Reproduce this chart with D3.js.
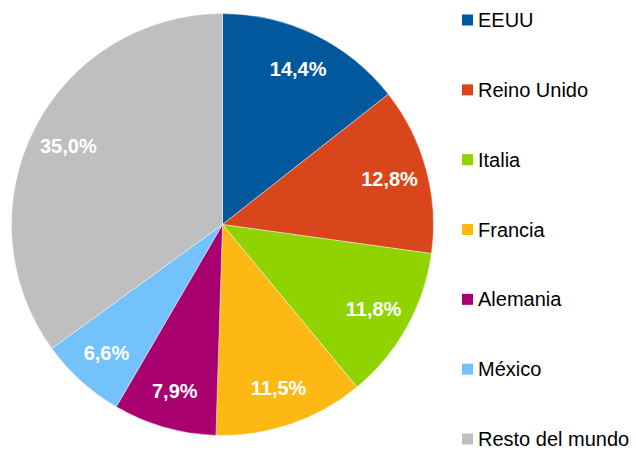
<!DOCTYPE html>
<html>
<head>
<meta charset="utf-8">
<style>
    body { margin: 0; background: #fff; }
    svg { display: block; }
    .slice-label {
        fill: #fff;
        font-family: "Liberation Sans", Arial, sans-serif;
        font-weight: bold;
        font-size: 20px;
        text-anchor: middle;
        dominant-baseline: central;
    }
    .legend text {
        fill: #000;
        font-family: "Liberation Sans", Arial, sans-serif;
        font-size: 20px;
        dominant-baseline: central;
    }
</style>
</head>
<body>
<svg class="chart" width="636" height="450"></svg>
<script src="https://d3js.org/d3.v7.min.js"></script>
<script>
    var countries = ["EEUU", "Reino Unido", "Italia", "Francia", "Alemania", "México", "Resto del mundo"];
    var shares = [14.4, 12.8, 11.8, 11.5, 7.9, 6.6, 35.0];
    var colors = ["#02589c", "#d9461b", "#8fd400", "#fdb813", "#a8006f", "#74c2fb", "#bfbfbf"];

    var width = 636, height = 450;
    var cx = 222.5, cy = 224.5, radius = 211;

    var data = countries.map(function(name, i) { return {name: name, value: shares[i]}; });

    var color = d3.scaleOrdinal().domain(countries).range(colors);

    var chart = d3.select('.chart')
        .attr('width', width)
        .attr('height', height);

    var pie = d3.pie()
        .sort(null)
        .value(function(d) { return d.value; });

    var arc = d3.arc().innerRadius(0).outerRadius(radius);
    var labelArc = d3.arc().innerRadius(radius * 0.82).outerRadius(radius * 0.82);

    var g = chart.append('g')
        .attr('transform', 'translate(' + cx + ',' + cy + ')');

    var slices = g.selectAll('g.slice')
        .data(pie(data))
        .enter()
        .append('g')
        .attr('class', 'slice');

    slices.append('path')
        .attr('d', arc)
        .attr('fill', function(d) { return color(d.data.name); })
        .attr('stroke', '#fff')
        .attr('stroke-width', 0.4);

    slices.append('text')
        .attr('class', 'slice-label')
        .attr('transform', function(d) { return 'translate(' + labelArc.centroid(d) + ')'; })
        .text(function(d) { return d3.format('.1f')(d.data.value).replace('.', ',') + '%'; });

    // legend
    var legendY = d3.scalePoint()
        .domain(countries)
        .range([20, 439]);

    var legend = chart.append('g')
        .attr('class', 'legend')
        .selectAll('g')
        .data(countries)
        .enter()
        .append('g')
        .attr('transform', function(d) { return 'translate(462,' + legendY(d) + ')'; });

    legend.append('rect')
        .attr('x', 0)
        .attr('y', -5.5)
        .attr('width', 11)
        .attr('height', 11)
        .attr('fill', function(d) { return color(d); });

    legend.append('text')
        .attr('x', 16)
        .attr('y', 0)
        .text(function(d) { return d; });
</script>
</body>
</html>
